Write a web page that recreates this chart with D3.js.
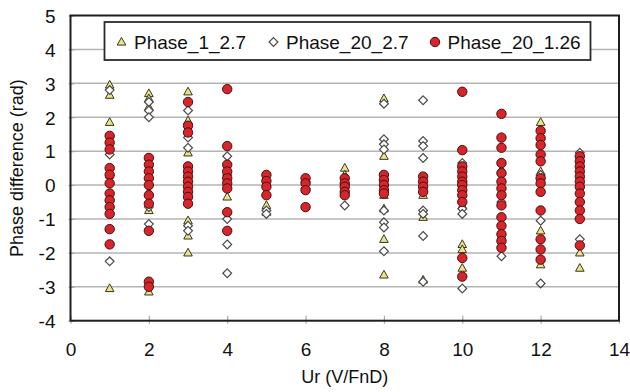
<!DOCTYPE html>
<html>
<head>
<meta charset="utf-8">
<script src="https://cdn.jsdelivr.net/npm/d3@7"></script>
<style>
  html, body { margin: 0; padding: 0; background: #fff; }
  svg text { font-family: "Liberation Sans", Arial, sans-serif; fill: #111; }
</style>
</head>
<body>
<svg id="chart" width="630" height="392"></svg>
<script>
// Flow velocity columns (Ur) and the phase differences measured at each one
const ur = [1, 2, 3, 4, 5, 6, 7, 8, 9, 10, 11, 12, 13];
const seriesNames = ["Phase_1_2.7", "Phase_20_2.7", "Phase_20_1.26"];

const phase1_27 = [
  [2.95, 2.65, 1.85, 0.3, -0.55, -3.05],
  [2.7, 2.55, 2.3, -0.2, -0.75, -3.15],
  [2.75, 1.9, 0.95, -1.05, -1.5, -2.0],
  [0.0, -0.35],
  [-0.6, -0.8],
  [],
  [0.5, 0.3],
  [2.55, 0.85, -0.3, -0.7, -1.6, -2.65],
  [-0.3, -0.95, -2.8],
  [0.6, -0.1, -0.6, -1.75, -1.9, -2.45],
  [0.45, 0.2, -1.5],
  [1.85, 0.4, -1.35, -2.35],
  [0.0, -0.4, -2.0, -2.45]
];

const phase20_27 = [
  [2.8, 0.9, -2.25],
  [2.45, 2.2, 2.0, -0.65, -1.15],
  [2.2, 1.4, 1.1, -1.2, -1.35],
  [0.85, 0.3, -1.0, -1.75, -2.6],
  [-0.75, -0.85],
  [0.1, -0.1],
  [-0.6],
  [2.4, 1.35, 1.2, 1.05, -0.75, -1.1, -1.25, -1.95],
  [2.5, 1.3, 1.15, 0.8, -0.75, -0.85, -1.5, -2.85],
  [0.65, -0.7, -0.85, -3.05],
  [-0.5, -2.1],
  [0.3, -1.05, -2.9],
  [0.95, -1.6]
];

const phase20_126 = [
  [1.45, 1.25, 1.05, 0.5, 0.3, 0.05, -0.25, -0.45, -0.65, -0.85, -1.3, -1.75],
  [0.8, 0.6, 0.4, 0.2, 0.0, -0.3, -0.55, -1.35, -2.85, -3.0],
  [2.45, 1.75, 1.55, 0.55, 0.4, 0.25, 0.1, -0.05, -0.2, -0.35, -0.55],
  [2.83, 1.15, 0.6, 0.4, 0.2, 0.05, -0.1, -0.8, -1.35],
  [0.3, 0.12, -0.05, -0.3],
  [0.2, 0.05, -0.15, -0.65],
  [0.2, 0.05, -0.05, -0.2, -0.3],
  [0.3, 0.15, 0.0, -0.15, -0.25],
  [0.25, 0.1, -0.05, -0.2],
  [2.75, 1.03, 0.55, 0.4, 0.25, 0.1, 0.0, -0.15, -0.3, -0.5, -2.15, -2.7],
  [2.1, 1.4, 1.1, 0.65, 0.35, 0.1, -0.1, -0.3, -0.6, -0.95, -1.2, -1.45, -1.65, -1.85],
  [1.6, 1.38, 1.18, 0.9, 0.7, 0.2, 0.05, -0.2, -0.75, -1.6, -1.9, -2.2],
  [0.85, 0.7, 0.55, 0.4, 0.25, 0.1, -0.05, -0.25, -0.5, -0.75, -1.0, -1.78]
];

const xTicks = [0, 2, 4, 6, 8, 10, 12, 14];
const yTicks = [-4, -3, -2, -1, 0, 1, 2, 3, 4, 5];

const svg = d3.select("#chart");
const plot = { left: 70.5, right: 619, top: 15.5, bottom: 320.7 };

const x = d3.scaleLinear().domain([0, 14]).range([plot.left, plot.right]);
const y = d3.scaleLinear().domain([-4, 5]).range([plot.bottom, plot.top]);

// plain hyphen for negative tick labels
const fmt = d => String(d);

// horizontal gridlines
svg.append("g")
  .selectAll("line")
  .data(yTicks.filter(v => v > -4 && v < 5))
  .join("line")
  .attr("x1", plot.left).attr("x2", plot.right)
  .attr("y1", d => y(d)).attr("y2", d => y(d))
  .attr("stroke", "#b4b4b4").attr("stroke-width", 1.5);

// x axis (ticks crossing the bottom edge) and labels
const xAxis = d3.axisBottom(x).tickValues(xTicks).tickSize(0).tickPadding(0).tickFormat(fmt);
const gx = svg.append("g").attr("transform", `translate(0,${plot.bottom})`).call(xAxis);
gx.select(".domain").remove();
gx.selectAll(".tick text")
  .attr("y", 35).attr("dy", null)
  .attr("font-size", 19).attr("fill", "#111")
  .style("font-family", "'Liberation Sans', Arial, sans-serif");
gx.selectAll(".tick").append("line")
  .attr("y1", -5).attr("y2", 3)
  .attr("stroke", "#a8a8a8").attr("stroke-width", 1.2);

// y axis labels
const yAxis = d3.axisLeft(y).tickValues(yTicks).tickSize(0).tickPadding(0).tickFormat(fmt);
const gy = svg.append("g").attr("transform", `translate(${plot.left},0)`).call(yAxis);
gy.select(".domain").remove();
gy.selectAll(".tick text")
  .attr("x", -15).attr("dy", "0.36em")
  .attr("font-size", 19).attr("fill", "#111")
  .style("font-family", "'Liberation Sans', Arial, sans-serif");
gy.selectAll(".tick").append("line")
  .attr("x1", -2).attr("x2", 4)
  .attr("stroke", "#a8a8a8").attr("stroke-width", 1.2);

// plot frame
svg.append("rect")
  .attr("x", plot.left).attr("y", plot.top)
  .attr("width", plot.right - plot.left).attr("height", plot.bottom - plot.top)
  .attr("fill", "none").attr("stroke", "#1e1e1e").attr("stroke-width", 2);

// axis titles
svg.append("text")
  .attr("x", (plot.left + plot.right) / 2).attr("y", 383)
  .attr("text-anchor", "middle").attr("font-size", 18)
  .text("Ur (V/FnD)");
svg.append("text")
  .attr("transform", `translate(23,${(plot.top + plot.bottom) / 2}) rotate(-90)`)
  .attr("text-anchor", "middle").attr("font-size", 18)
  .text("Phase difference (rad)");

// marker shapes
const triPath = "M0,-4.6L4.3,3.1L-4.3,3.1Z";
const diaPath = "M0,-4.4L4.4,0L0,4.4L-4.4,0Z";
const styles = [
  { fill: "#ebe28e", stroke: "#3b3719", sw: 1, path: triPath },
  { fill: "#ffffff", stroke: "#4a4a4a", sw: 1.2, path: diaPath },
  { fill: "#d6262c", stroke: "#4a0d0d", sw: 1, circle: 4.7 }
];

function flatten(cols) {
  const pts = [];
  cols.forEach((vals, i) => vals.forEach(v => pts.push({ x: ur[i], y: v })));
  return pts;
}

const allSeries = [phase1_27, phase20_27, phase20_126];
allSeries.forEach((cols, si) => {
  const s = styles[si];
  const g = svg.append("g");
  const pts = flatten(cols);
  if (s.circle) {
    g.selectAll("circle").data(pts).join("circle")
      .attr("cx", d => x(d.x)).attr("cy", d => y(d.y)).attr("r", s.circle)
      .attr("fill", s.fill).attr("stroke", s.stroke).attr("stroke-width", s.sw);
  } else {
    g.selectAll("path").data(pts).join("path")
      .attr("transform", d => `translate(${x(d.x)},${y(d.y)})`)
      .attr("d", s.path)
      .attr("fill", s.fill).attr("stroke", s.stroke).attr("stroke-width", s.sw);
  }
});

// legend
const legend = svg.append("g");
legend.append("rect")
  .attr("x", 104.5).attr("y", 22).attr("width", 486).attr("height", 38)
  .attr("fill", "#fff").attr("stroke", "#2a2a2a").attr("stroke-width", 1.8);
const legendX = [121.5, 273.5, 435];
seriesNames.forEach((name, i) => {
  const s = styles[i];
  const cy = 42;
  if (s.circle) {
    legend.append("circle").attr("cx", legendX[i]).attr("cy", cy).attr("r", s.circle)
      .attr("fill", s.fill).attr("stroke", s.stroke).attr("stroke-width", s.sw);
  } else {
    legend.append("path").attr("transform", `translate(${legendX[i]},${cy})`).attr("d", s.path)
      .attr("fill", s.fill).attr("stroke", s.stroke).attr("stroke-width", s.sw);
  }
  legend.append("text")
    .attr("x", legendX[i] + 12.5).attr("y", 48.5)
    .attr("font-size", 19)
    .text(name);
});
</script>
</body>
</html>
